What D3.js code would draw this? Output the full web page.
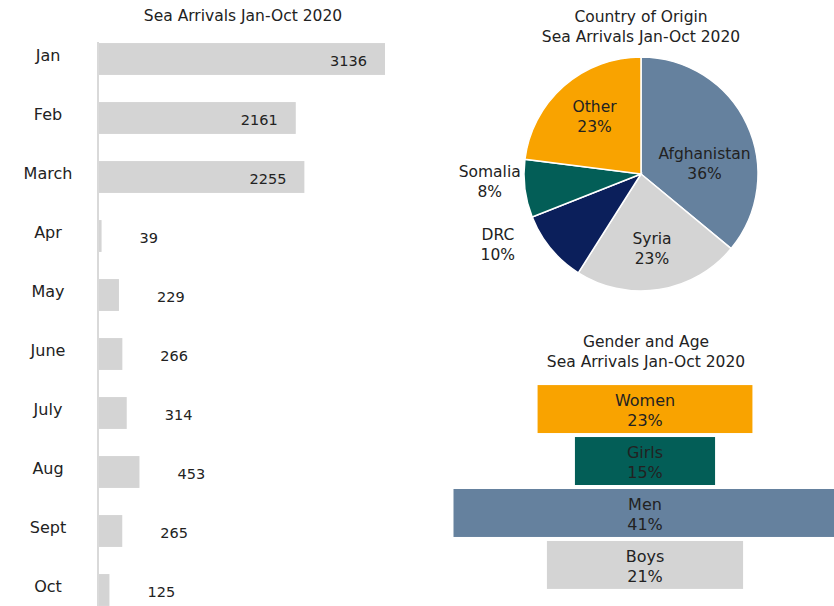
<!DOCTYPE html>
<html>
<head>
<meta charset="utf-8">
<script src="https://cdn.jsdelivr.net/npm/d3@7"></script>
<style>
  body { margin: 0; background: #fff; }
  svg text { font-family: "DejaVu Sans", sans-serif; fill: #222; }
</style>
</head>
<body>
<svg id="chart" width="834" height="606"></svg>
<script>
// monthly sea arrivals
var months = ["Jan", "Feb", "March", "Apr", "May", "June", "July", "Aug", "Sept", "Oct"];
var arrivals = [3136, 2161, 2255, 39, 229, 266, 314, 453, 265, 125];

// country of origin (%)
var countries = ["Afghanistan", "Syria", "DRC", "Somalia", "Other"];
var countryShare = [36, 23, 10, 8, 23];
var countryColors = ["#65819e", "#d4d4d4", "#0b1f5b", "#035e57", "#f9a300"];

// gender and age (%)
var groups = ["Women", "Girls", "Men", "Boys"];
var groupShare = [23, 15, 41, 21];
var groupColors = ["#f9a300", "#035e57", "#65819e", "#d4d4d4"];

var svg = d3.select("#chart");

// ---- left: monthly bars ----
var left = svg.append("g");
var x = d3.scaleLinear().domain([0, 3136]).range([98, 385]);
var y = d3.scaleBand().domain(months).range([29.5, 619.5])
    .paddingInner(0.46).paddingOuter(0.23);

left.append("text")
    .attr("x", 243).attr("y", 21)
    .attr("text-anchor", "middle")
    .style("font-size", "15.5px")
    .text("Sea Arrivals Jan-Oct 2020");

var rows = left.selectAll("g.row")
    .data(months.map(function(m, i) { return {month: m, value: arrivals[i]}; }))
    .enter().append("g").attr("class", "row");

rows.append("rect")
    .attr("x", x(0))
    .attr("y", function(d) { return y(d.month); })
    .attr("width", function(d) { return x(d.value) - x(0); })
    .attr("height", y.bandwidth())
    .attr("fill", "#d4d4d4");

rows.append("text")
    .attr("x", 48)
    .attr("y", function(d) { return y(d.month) + y.bandwidth() / 2 - 4; })
    .attr("dy", ".35em")
    .attr("text-anchor", "middle")
    .style("font-size", "16px")
    .text(function(d) { return d.month; });

rows.append("text")
    .attr("x", function(d) { return d.value > 1000 ? x(d.value) - 18 : x(d.value) + 38; })
    .attr("y", function(d) { return y(d.month) + y.bandwidth() / 2 + 2; })
    .attr("dy", ".35em")
    .attr("text-anchor", function(d) { return d.value > 1000 ? "end" : "start"; })
    .style("font-size", "14.5px")
    .text(function(d) { return d.value; });

left.append("line")
    .attr("x1", x(0)).attr("x2", x(0))
    .attr("y1", y(months[0]) - 1).attr("y2", 606)
    .attr("stroke", "#d9d9d9").attr("stroke-width", 2);

// ---- right top: pie ----
var cx = 641, cy = 174, R = 117;
var pieG = svg.append("g").attr("transform", "translate(" + cx + "," + cy + ")");

svg.append("text").attr("x", cx).attr("y", 22).attr("text-anchor", "middle")
    .style("font-size", "15.5px").text("Country of Origin");
svg.append("text").attr("x", cx).attr("y", 42).attr("text-anchor", "middle")
    .style("font-size", "15.5px").text("Sea Arrivals Jan-Oct 2020");

var pieData = d3.pie().sort(null)(countryShare);
var arc = d3.arc().innerRadius(0).outerRadius(R);
var labelArc = d3.arc().innerRadius(R * 1.2).outerRadius(R * 1.2);
var innerArc = d3.arc().innerRadius(R * 0.6).outerRadius(R * 0.6);

pieG.selectAll("path").data(pieData).enter().append("path")
    .attr("d", arc)
    .attr("fill", function(d, i) { return countryColors[i]; })
    .attr("stroke", "#fff").attr("stroke-width", 1.5);

// label nudges (outside labels for the small slices)
var nudge = {"Somalia": [-12, -12], "DRC": [-35, -20], "Afghanistan": [0, 18], "Other": [0, -6], "Syria": [0, 4]};
var labels = pieG.selectAll("text.lab").data(pieData).enter().append("text")
    .attr("class", "lab")
    .attr("text-anchor", "middle")
    .style("font-size", "15.5px")
    .attr("transform", function(d, i) {
        var name = countries[i];
        var p = d.value < 15 ? labelArc.centroid(d) : innerArc.centroid(d);
        var n = nudge[name] || [0, 0];
        return "translate(" + (p[0] + n[0]) + "," + (p[1] + n[1]) + ")";
    });
labels.append("tspan").attr("x", 0).attr("y", -3).text(function(d, i) { return countries[i]; });
labels.append("tspan").attr("x", 0).attr("y", 17).text(function(d) { return d.value + "%"; });

// ---- right bottom: gender and age ----
var gx = 645;
svg.append("text").attr("x", 646).attr("y", 347).attr("text-anchor", "middle")
    .style("font-size", "15.5px").text("Gender and Age");
svg.append("text").attr("x", 646).attr("y", 367).attr("text-anchor", "middle")
    .style("font-size", "15.5px").text("Sea Arrivals Jan-Oct 2020");

var w = d3.scaleLinear().domain([0, 41]).range([0, 383]);
var gy = d3.scaleBand().domain(groups).range([383, 591]).paddingInner(0.077).paddingOuter(0.04);

var gRows = svg.selectAll("g.grp")
    .data(groups.map(function(g, i) { return {name: g, value: groupShare[i]}; }))
    .enter().append("g").attr("class", "grp");

gRows.append("rect")
    .attr("x", function(d) { return gx - w(d.value) / 2; })
    .attr("y", function(d) { return gy(d.name); })
    .attr("width", function(d) { return w(d.value); })
    .attr("height", gy.bandwidth())
    .attr("fill", function(d, i) { return groupColors[i]; });

gRows.append("text")
    .attr("x", gx).attr("text-anchor", "middle")
    .attr("y", function(d) { return gy(d.name) + gy.bandwidth() / 2 - 3; })
    .style("font-size", "16px")
    .text(function(d) { return d.name; });
gRows.append("text")
    .attr("x", gx).attr("text-anchor", "middle")
    .attr("y", function(d) { return gy(d.name) + gy.bandwidth() / 2 + 17; })
    .style("font-size", "16px")
    .text(function(d) { return d.value + "%"; });
</script>
</body>
</html>
